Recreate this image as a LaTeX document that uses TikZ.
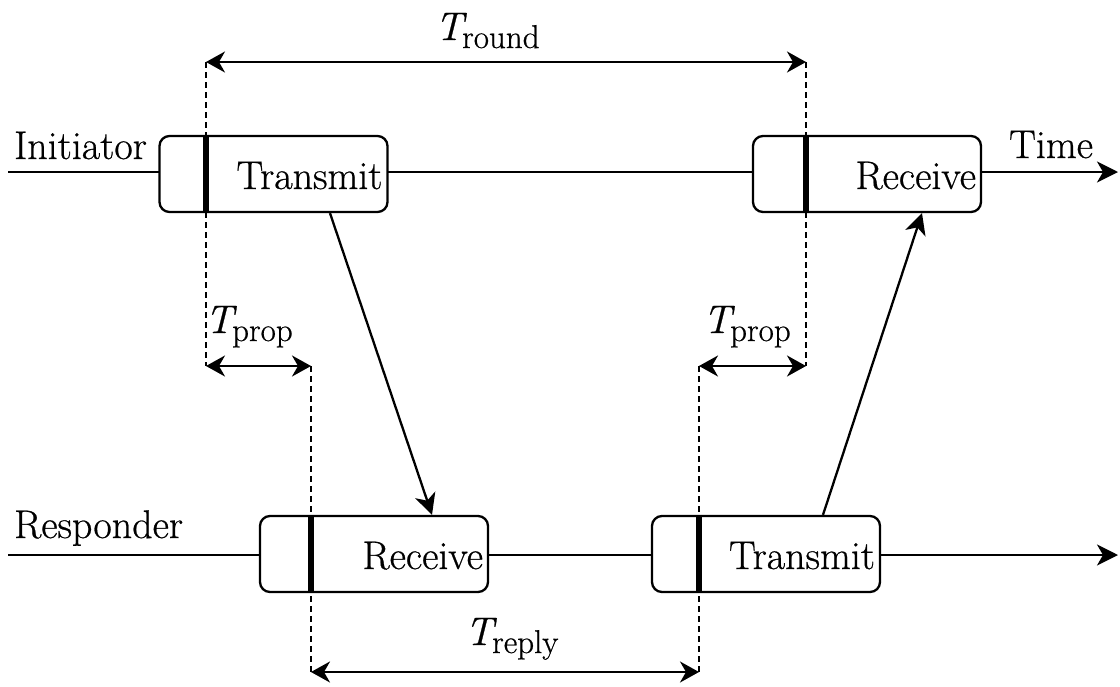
\documentclass[tikz,border=0pt]{standalone}
\usepackage{fontspec}
\newfontfamily\lmheavy{Latin Modern Roman}[FakeBold=0.6]
\usetikzlibrary{arrows.meta}
\newcommand{\Tlab}[1]{{\itshape T}\kern-1pt\raisebox{-8pt}{\fontsize{33}{36}\selectfont #1}}
\begin{document}
\begin{tikzpicture}[x=1pt,y=-1pt,
  font=\lmheavy\fontsize{40}{46}\selectfont,
  line width=2.3pt,
  tip/.style={-{Stealth[length=21pt,width=21pt,inset=6pt]}},
  dtip/.style={{Stealth[length=19pt,width=21pt,inset=6pt]}-{Stealth[length=19pt,width=21pt,inset=6pt]}},
  guide/.style={line width=1.6pt,dash pattern=on 6pt off 4pt},
  evbox/.style={draw,fill=white,rounded corners=10pt,minimum width=228pt,minimum height=76pt,
    text width=218pt,align=right,inner xsep=5pt,inner ysep=0pt,text height=30pt,text depth=0pt},
  lab/.style={inner sep=0pt,anchor=base west}]
\useasboundingbox (0,0) rectangle (1120,686);
% guide coordinates
\coordinate (g1t) at (206,62);  \coordinate (g1b) at (206,366);
\coordinate (g2t) at (806,62);  \coordinate (g2b) at (806,366);
\coordinate (g3t) at (311,366); \coordinate (g3b) at (311,672);
\coordinate (g4t) at (699,366); \coordinate (g4b) at (699,672);
\draw[guide] (g1t) -- (g1b);
\draw[guide] (g2t) -- (g2b);
\draw[guide] (g3t) -- (g3b);
\draw[guide] (g4t) -- (g4b);
% time lines
\coordinate (iL) at (8,172); \coordinate (iR) at (1118,172);
\coordinate (rL) at (8,555); \coordinate (rR) at (1118,555);
\draw[tip] (iL) -- (iR);
\draw[tip] (rL) -- (rR);
% boxes
\node[evbox] (itx) at (273.5,174) {Transmit};
\node[evbox] (irx) at (867,174) {Receive};
\node[evbox] (rrx) at (374,554) {Receive};
\node[evbox] (rtx) at (766,554) {Transmit};
\draw[line width=6pt] (itx.north west -| g1t) -- (itx.south west -| g1t);
\draw[line width=6pt] (irx.north west -| g2t) -- (irx.south west -| g2t);
\draw[line width=6pt] (rrx.north west -| g3t) -- (rrx.south west -| g3t);
\draw[line width=6pt] (rtx.north west -| g4t) -- (rtx.south west -| g4t);
% messages
\draw[tip] (itx.south -| 330,0) -- (rrx.north -| 432,0);
\draw[tip] (rtx.north -| 823,0) -- (irx.south -| 922,0);
% labels
\node[lab] (init) at (13,159) {Initiator};
\node[lab] (time) at (1008,158) {Time};
\node[lab] (resp) at (13,538) {Responder};
% intervals
\draw[dtip] (g1t) -- (g2t);
\draw[dtip] (g1b) -- (g3t);
\draw[dtip] (g4t) -- (g2b);
\draw[dtip] (g3b) -- (g4b);
\node[lab] (tround) at (434,40) {\Tlab{round}};
\node[lab] (tprop1) at (204,333) {\Tlab{prop}};
\node[lab] (tprop2) at (702,333) {\Tlab{prop}};
\node[lab] (treply) at (464,645) {\Tlab{reply}};
\end{tikzpicture}
\end{document}
